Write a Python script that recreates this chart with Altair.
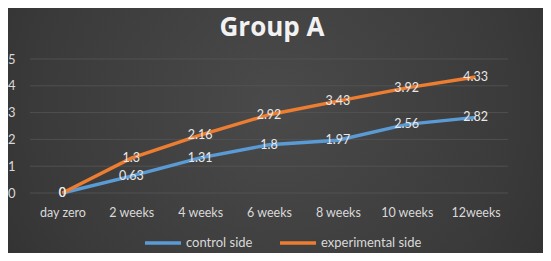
import altair as alt
import pandas as pd

categories = ["day zero", "2 weeks", "4 weeks", "6 weeks", "8 weeks", "10 weeks", "12weeks"]
control = [0, 0.63, 1.31, 1.8, 1.97, 2.56, 2.82]
experimental = [0, 1.3, 2.16, 2.92, 3.43, 3.92, 4.33]
series = ["control side", "experimental side"]
colors = ["#5b9bd5", "#ed7d31"]
y_ticks = [0, 1, 2, 3, 4, 5]

rows = []
for s, vals in zip(series, [control, experimental]):
    for c, v in zip(categories, vals):
        rows.append({"period": c, "value": v, "series": s, "label": f"{v:g}"})
df = pd.DataFrame(rows)

FONT = "Lato"

bg = alt.Chart(pd.DataFrame({"a": [1]})).mark_rect(
    fill=alt.Gradient(
        gradient="radial",
        stops=[alt.GradientStop(color="#4a4a4a", offset=0),
               alt.GradientStop(color="#3a3a3a", offset=0.6),
               alt.GradientStop(color="#2a2a2a", offset=1)],
        x1=0.5, y1=0.45, r1=0, x2=0.5, y2=0.45, r2=0.75,
    )
).encode(x=alt.value(-20), x2=alt.value(515), y=alt.value(-51), y2=alt.value(194))

y_scale = alt.Scale(domain=[0, 5], nice=False, zero=True)
y_axis = alt.Axis(title=None, values=y_ticks, tickCount=6, domain=False, ticks=False, labelOverlap=False,
                  labelFlush=False, labelPadding=13, labelColor="#d9d9d9", labelFontSize=13,
                  labelFont=FONT, grid=False, zindex=1)

grid = alt.Chart(pd.DataFrame({"t": y_ticks})).mark_rule(color="#555555", strokeWidth=0.8).encode(
    y=alt.Y("t:Q", scale=y_scale, axis=y_axis, title=None),
    x=alt.value(2), x2=alt.value(480),
)

x_enc = alt.X("period:N", sort=categories, scale=alt.Scale(domain=categories, paddingInner=0, paddingOuter=0),
              axis=alt.Axis(title=None, labelAngle=0, domain=False, ticks=False, labelPadding=13,
                            labelColor="#d9d9d9", labelFontSize=12.5, labelFont=FONT, grid=False, zindex=1))
y_enc = alt.Y("value:Q", scale=y_scale, axis=y_axis, title=None)

lines = alt.Chart(df).mark_line(strokeWidth=3.4).encode(
    x=x_enc, y=y_enc,
    color=alt.Color("series:N", scale=alt.Scale(domain=series, range=colors),
                    legend=alt.Legend(title=None, orient="none", legendX=115, legendY=164,
                                      direction="horizontal", symbolType="stroke",
                                      symbolStrokeWidth=3.5, symbolSize=1300, symbolOffset=0,
                                      labelOffset=3, columnPadding=19,
                                      labelColor="#d9d9d9", labelFontSize=13, labelFont=FONT)),
    order=alt.Order("series:N"),
)

labels = alt.Chart(df).mark_text(fontSize=12.5, font=FONT, color="#e8e8e8", baseline="middle").encode(
    x=alt.X("period:N", sort=categories), y="value:Q", text="label:N"
)

chart = alt.layer(bg, grid, lines, labels).properties(
    width=482, height=134,
    title=alt.TitleParams("Group A", fontSize=26, font="Open Sans", fontWeight="bold", color="#f2f2f2",
                          anchor="middle", offset=-33, dx=3),
    autosize=alt.AutoSizeParams(type="none"),
    padding={"left": 20, "top": 51, "right": 33, "bottom": 60},
).configure(background="#2b2b2b").configure_view(stroke=None).configure_axis(labelOverlap=False)

chart.save("out.html", embed_options={"renderer": "svg", "actions": False})
